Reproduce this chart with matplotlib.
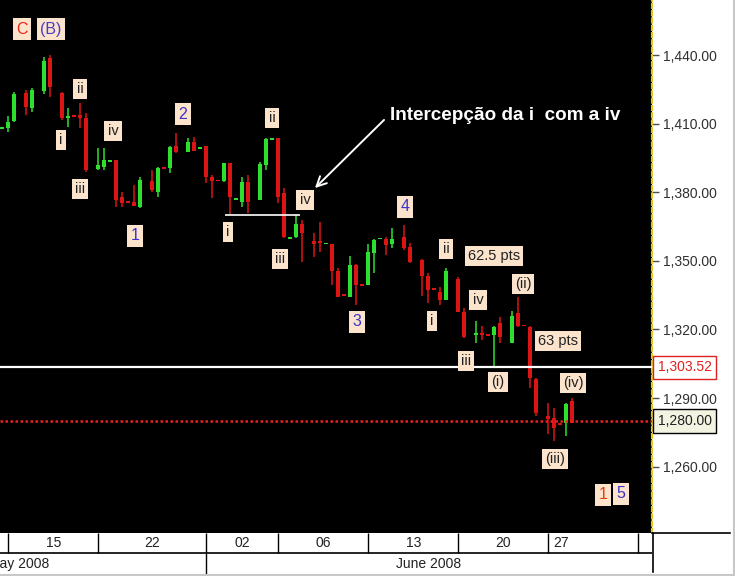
import numpy as np
import matplotlib
matplotlib.use("Agg")
import matplotlib.pyplot as plt
from matplotlib.lines import Line2D

plt.rcParams['font.family'] = ['Liberation Sans', 'DejaVu Sans']

nan = np.nan
# OHLC per bar slot (3 slots per trading day), NaN = empty slot
opens = [1407.6, 1408.0, 1411.1, nan, 1423.4, 1416.8, nan, 1424.2, 1438.7, nan,
         1423.4, 1412.4, 1413.6, 1413.7, 1412.4, nan, 1390.0, 1391.0, 1393.3, 1394.0,
         1378.0, 1376.0, 1375.6, 1373.4, nan, 1384.8, 1380.0, 1390.9, 1390.5, 1400.1,
         nan, 1397.5, 1401.9, 1399.0, 1400.1, 1386.6, 1385.4, 1384.8, 1392.7, 1376.8,
         1375.6, 1384.4, nan, 1376.5, 1391.8, 1402.9, 1403.6, 1379.6, 1359.6, 1360.3,
         1366.0, nan, 1358.7, 1358.7, 1357.3, 1357.6, 1345.8, 1335.2, 1334.4, 1348.0,
         1339.6, 1339.3, 1353.3, 1359.5, 1359.4, 1357.2, nan, 1360.3, 1355.9, nan,
         1350.6, 1343.6, 1337.8, 1336.2, 1332.7, nan, 1342.3, 1327.5, nan, 1317.4,
         1318.3, 1318.0, 1317.4, 1323.0, nan, 1313.9, 1327.0, 1322.0, 1320.9, 1298.5,
         nan, 1282.3, 1281.4, 1279.1, 1279.0, 1288.9]
closes = [1408.4, 1410.6, 1422.9, nan, 1417.2, 1424.7, nan, 1437.4, 1426.0, nan,
          1412.4, 1413.3, 1413.0, 1412.4, 1389.6, nan, 1391.8, 1394.0, 1393.9, 1376.5,
          1375.2, 1375.5, 1373.9, 1385.2, nan, 1380.9, 1390.5, 1390.3, 1399.7, 1397.5,
          nan, 1401.9, 1398.0, 1399.8, 1386.6, 1384.8, 1384.9, 1392.7, 1377.8, 1377.4,
          1384.4, 1375.6, nan, 1392.3, 1403.2, 1403.5, 1377.8, 1360.3, 1360.2, 1366.0,
          1362.0, nan, 1357.6, 1357.8, 1357.9, 1345.8, 1334.4, 1334.7, 1348.4, 1339.3,
          1339.1, 1353.7, 1359.0, 1360.1, 1356.8, 1359.4, nan, 1355.5, 1349.3, nan,
          1343.2, 1337.1, 1337.3, 1332.7, 1345.8, nan, 1327.5, 1316.5, nan, 1318.3,
          1317.6, 1317.5, 1321.3, 1316.5, nan, 1326.1, 1321.7, 1321.5, 1299.0, 1283.6,
          nan, 1281.0, 1277.0, 1278.6, 1287.6, 1279.2]
highs = [1408.4, 1413.3, 1423.8, nan, 1424.7, 1425.5, nan, 1439.1, 1440.0, nan,
         1423.8, 1416.8, 1413.6, 1419.0, 1414.6, nan, 1399.3, 1399.3, 1393.9, 1394.0,
         1380.0, 1376.0, 1383.4, 1386.6, nan, 1389.6, 1391.0, 1390.9, 1400.1, 1406.0,
         nan, 1403.6, 1404.0, 1399.8, 1400.1, 1387.5, 1385.4, 1392.9, 1392.9, 1377.4,
         1386.6, 1387.5, nan, 1393.1, 1403.6, 1403.5, 1403.6, 1381.7, 1360.2, 1370.0,
         1367.7, nan, 1362.0, 1366.8, 1357.9, 1357.6, 1346.7, 1335.2, 1352.0, 1348.5,
         1339.6, 1357.6, 1359.4, 1360.1, 1360.3, 1364.2, nan, 1365.5, 1358.0, nan,
         1351.0, 1344.5, 1337.8, 1338.4, 1347.1, nan, 1342.8, 1329.2, nan, 1323.9,
         1321.7, 1318.0, 1321.7, 1325.3, nan, 1328.3, 1334.4, 1322.0, 1321.7, 1299.0,
         nan, 1288.0, 1285.8, 1279.1, 1288.0, 1290.2]
lows = [1407.6, 1406.3, 1410.6, nan, 1413.7, 1415.0, nan, 1422.9, 1421.6, nan,
        1411.5, 1408.5, 1413.0, 1408.0, 1388.8, nan, 1389.6, 1389.6, 1393.3, 1373.4,
        1373.4, 1375.5, 1373.9, 1373.0, nan, 1380.0, 1377.8, 1390.3, 1388.3, 1397.0,
        nan, 1397.5, 1398.0, 1399.0, 1384.0, 1377.4, 1384.9, 1384.4, 1370.0, 1376.8,
        1373.4, 1370.8, nan, 1376.5, 1389.6, 1402.9, 1375.2, 1359.8, 1359.6, 1359.8,
        1349.3, nan, 1351.5, 1353.7, 1357.3, 1339.3, 1334.4, 1334.7, 1334.0, 1330.5,
        1339.1, 1339.3, 1344.5, 1359.5, 1352.4, 1355.5, nan, 1354.6, 1348.9, nan,
        1334.8, 1331.8, 1337.3, 1330.5, 1332.7, nan, 1327.5, 1316.1, nan, 1314.3,
        1315.2, 1317.5, 1303.0, 1314.0, nan, 1313.9, 1320.9, 1321.5, 1294.6, 1282.3,
        nan, 1274.5, 1271.4, 1278.6, 1273.6, 1279.0]

price_ticks = [1260, 1290, 1320, 1350, 1380, 1410, 1440]
day_seps = [1, 16, 34, 46, 61, 76, 91, 106]
day_labels = ['15', '22', '02', '06', '13', '20', '27']
day_label_pos = [8.5, 25, 40, 53.5, 68.5, 83.5, 93.2]
month_labels = ['May 2008', 'June 2008']
month_label_pos = [2.8, 71.1]
month_seps = [34]

wave_labels = [  # text, slot, price, color
    ('C', 3.28, 1451.4, '#E8281E'), ('(B)', 8.12, 1451.4, '#4B3CC8'),
    ('ii', 12.95, 1425.2, '#202020'), ('i', 9.78, 1402.9, '#202020'),
    ('iv', 18.45, 1406.8, '#202020'), ('iii', 12.95, 1381.5, '#202020'),
    ('1', 22.12, 1360.9, '#3C32C8'), ('2', 30.12, 1414.2, '#3C32C8'),
    ('ii', 44.95, 1412.5, '#202020'), ('i', 37.62, 1362.7, '#202020'),
    ('iv', 50.45, 1376.6, '#202020'), ('iii', 46.28, 1350.9, '#202020'),
    ('3', 59.12, 1323.3, '#3C32C8'), ('4', 67.12, 1373.6, '#3C32C8'),
    ('ii', 73.95, 1355.2, '#202020'), ('i', 71.62, 1323.7, '#202020'),
    ('iv', 79.28, 1332.9, '#202020'), ('iii', 77.28, 1306.2, '#202020'),
    ('62.5 pts', 81.95, 1352.2, '#202020'), ('(ii)', 86.78, 1339.9, '#202020'),
    ('63 pts', 92.62, 1315.0, '#202020'), ('(i)', 82.62, 1297.1, '#202020'),
    ('(iv)', 95.12, 1296.6, '#202020'), ('(iii)', 92.12, 1263.4, '#202020'),
    ('1', 100.12, 1247.7, '#E0400F'), ('5', 103.12, 1248.1, '#3C32C8'),
]
line_level = 1303.52
last_price = 1280.00
intercept_level = 1369.9
intercept_range = (37.1, 49.6)

W, H = 735, 576
fig = plt.figure(figsize=(W / 100, H / 100), dpi=100, facecolor='white')
ax = fig.add_axes([0, 43 / H, 652 / W, 533 / H], facecolor='black')
ax.set_xlim(-0.383, 108.28)
ax.set_ylim(1231.0, 1464.1)

green, red = '#2EE02E', '#DC1414'
for k, (o, h, l, c) in enumerate(zip(opens, highs, lows, closes)):
    if np.isnan(o):
        continue
    col = green if c >= o else red
    ax.vlines(k, l, h, color=col, lw=1.1, zorder=3)
    bot = min(o, c)
    ht = max(abs(c - o), 0.8)
    if abs(c - o) < 0.8:
        bot = (o + c) / 2 - 0.4
    ax.bar(k, ht, bottom=bot, width=0.66, color=col, lw=0, zorder=4)

ax.axhline(line_level, color='white', lw=1.6, zorder=5)
ax.axhline(last_price, color='#E82020', lw=1.8, ls=(0, (1, 1)), zorder=5)
ax.hlines(intercept_level, *intercept_range, color='white', lw=1.2, zorder=5)

for txt, k, p, col in wave_labels:
    big = txt in ('1', '2', '3', '4', '5', 'C', '(B)')
    ax.text(k, p, txt, color=col, fontsize=11.5 if big else 10.5, ha='center', va='center',
            zorder=6, bbox=dict(boxstyle='square,pad=0.22', fc='#FCE4CC', ec='none'))

ax.text(64.62, 1413.4, 'Intercepção da i  com a iv', color='white', fontsize=13.6,
        fontweight='bold', ha='left', va='center', zorder=6)
ax.annotate('', xy=(51.78, 1381.0), xytext=(63.95, 1412.5),
            arrowprops=dict(arrowstyle='->,head_length=0.7,head_width=0.35', color='white', lw=1.4),
            zorder=6)

ax.yaxis.tick_right()
ax.set_yticks(price_ticks)
ax.set_yticklabels([f'{v:,.2f}' for v in price_ticks], fontsize=10, color='#303030')
ax.tick_params(axis='y', length=5, width=1, color='#505050', pad=3)
ax.set_xticks([])
for s in ['left', 'top', 'bottom']:
    ax.spines[s].set_visible(False)
ax.spines['right'].set_color('#E6C619')
ax.spines['right'].set_linestyle((0, (2, 1.5)))
ax.spines['right'].set_linewidth(1.5)

# value boxes on the price scale
ax.text(1.009, line_level, f'{line_level:,.2f}', transform=ax.get_yaxis_transform(),
        color='#E02020', fontsize=10, ha='left', va='center', zorder=7,
        bbox=dict(boxstyle='square,pad=0.33', fc='white', ec='#E02020', lw=1))
ax.text(1.009, last_price, f'{last_price:,.2f}', transform=ax.get_yaxis_transform(),
        color='#202020', fontsize=10, ha='left', va='center', zorder=7,
        bbox=dict(boxstyle='square,pad=0.33', fc='#F3F3E2', ec='black', lw=1))

# date axis
ax2 = fig.add_axes([0, 0, 652 / W, 43 / H], facecolor='white')
ax2.set_xlim(ax.get_xlim())
ax2.set_ylim(0, 1)
ax2.axis('off')
div = (576 - 552.7) / 43
ax2.axhline(div, color='black', lw=1.2)
ax2.vlines(day_seps, div, 1, color='black', lw=1)
ax2.vlines(month_seps, 0, div, color='black', lw=1)
for t, k in zip(day_labels, day_label_pos):
    ax2.text(k, 0.77, t, fontsize=10, color='#222222', ha='center', va='center')
for t, k in zip(month_labels, month_label_pos):
    ax2.text(k, 0.29, t, fontsize=10, color='#222222', ha='center', va='center')

# frame lines
fig.add_artist(Line2D([652 / W, 730 / W], [1 - 533 / H] * 2, color='black', lw=1.2))
fig.add_artist(Line2D([652.5 / W] * 2, [1 - 533 / H, 1 - 572 / H], color='black', lw=1.2))
fig.add_artist(Line2D([0, 1], [1 - 574.5 / H] * 2, color='#C8C8C8', lw=1.5))
fig.add_artist(Line2D([733.5 / W] * 2, [0, 1], color='#C8C8C8', lw=1.5))

fig.savefig('out.png', dpi=100, facecolor='white')
